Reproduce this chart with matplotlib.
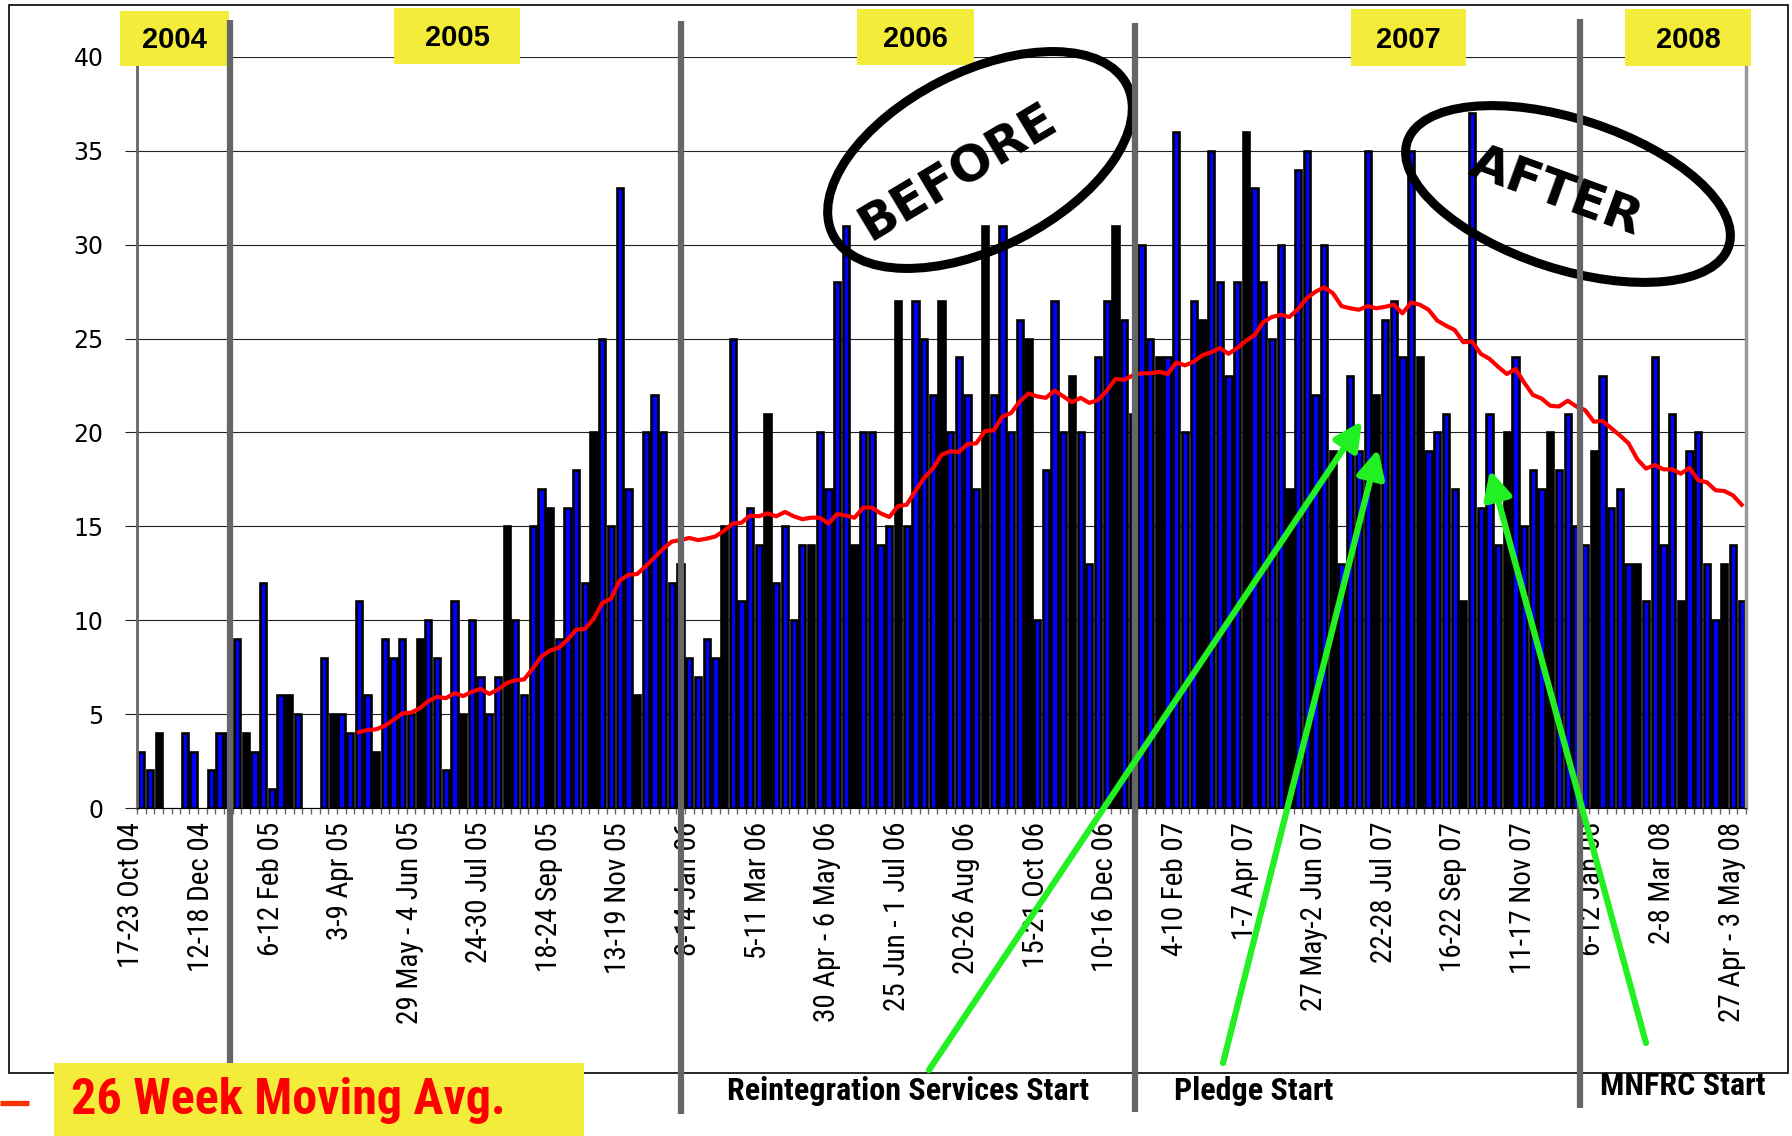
import matplotlib
matplotlib.use('Agg')
import matplotlib.pyplot as plt
from matplotlib.patches import Ellipse, Rectangle
from matplotlib.transforms import ScaledTranslation
import numpy as np
import pandas as pd

# weekly counts, 17-23 Oct 04 .. 27 Apr-3 May 08 (split roughly by year separators)
counts_2004 = [3, 2, 4, 0, 0, 4, 3, 0, 2, 4, 4]
counts_2005 = [9, 4, 3, 12, 1, 6, 6, 5, 0, 0, 8, 5, 5, 4, 11, 6, 3, 9, 8, 9,
               5, 9, 10, 8, 2, 11, 5, 10, 7, 5, 7, 15, 10, 6, 15, 17, 16, 9, 16, 18,
               12, 20, 25, 15, 33, 17, 6, 20, 22, 20, 12, 13]
counts_2006 = [8, 7, 9, 8, 15, 25, 11, 16, 14, 21, 12, 15, 10, 14, 14, 20, 17, 28, 31, 14,
               20, 20, 14, 15, 27, 15, 27, 25, 22, 27, 20, 24, 22, 17, 31, 22, 31, 20, 26, 25,
               10, 18, 27, 20, 23, 20, 13, 24, 27, 31, 26, 21]
counts_2007 = [30, 25, 24, 24, 36, 20, 27, 26, 35, 28, 23, 28, 36, 33, 28, 25, 30, 17, 34, 35,
               22, 30, 19, 13, 23, 19, 35, 22, 26, 27, 24, 35, 24, 19, 20, 21, 17, 11, 37, 16,
               21, 14, 20, 24, 15, 18, 17, 20, 18, 21, 15, 14]
counts_2008 = [19, 23, 16, 17, 13, 13, 11, 24, 14, 21, 11, 19, 20, 13, 10, 13, 14, 11]

tick_labels = ['17-23 Oct 04', '12-18 Dec 04', '6-12 Feb 05', '3-9 Apr 05',
               '29 May - 4 Jun 05', '24-30 Jul 05', '18-24 Sep 05', '13-19 Nov 05',
               '8-14 Jan 06', '5-11 Mar 06', '30 Apr - 6 May 06', '25 Jun - 1 Jul 06',
               '20-26 Aug 06', '15-21 Oct 06', '10-16 Dec 06', '4-10 Feb 07',
               '1-7 Apr 07', '27 May-2 Jun 07', '22-28 Jul 07', '16-22 Sep 07',
               '11-17 Nov 07', '6-12 Jan 08', '2-8 Mar 08', '27 Apr - 3 May 08']
label_every = 8
years = ['2004', '2005', '2006', '2007', '2008']
year_breaks = [10.2, 62.1, 114.3, 165.4]
milestones = ['Reintegration Services Start', 'Pledge Start', 'MNFRC Start']
ma_window = 26
legend_text = '26 Week Moving Avg.'

counts = counts_2004 + counts_2005 + counts_2006 + counts_2007 + counts_2008
n = len(counts)
x = np.arange(n)
moving_avg = pd.Series(counts).rolling(ma_window).mean()

W, H = 1792, 1136
fig = plt.figure(figsize=(W / 100, H / 100), dpi=100)
ax = fig.add_axes([137 / W, 1 - 808 / H, (1746 - 137) / W, (808 - 57) / H])

narrow = ['Liberation Sans Narrow', 'Roboto Condensed', 'Roboto', 'DejaVu Sans']
yellow = '#f4ec3b'
green = '#22f022'
grey = '#666666'

# bars (every 5th one looks solid black in the original because of the thick borders)
faces = ['black' if i % 5 == 2 else '#0000ff' for i in range(n)]
edges = [1.9 if c > 0 else 0 for c in counts]
ax.bar(x, counts, width=0.72, color=faces, edgecolor='black', linewidth=edges, zorder=2)
ax.plot(x, moving_avg, color='red', lw=3.0, zorder=3)

ax.set_xlim(-0.5, n - 0.5)
ax.set_ylim(0, 40)
ax.set_yticks(range(0, 41, 5))
ax.yaxis.grid(True, color='#222222', lw=0.8, zorder=0)
ax.set_axisbelow(True)
ax.tick_params(axis='y', direction='out', length=9, width=0.8, color='#222222',
               labelsize=17, pad=15)
for t in ax.get_yticklabels():
    t.set_fontfamily('DejaVu Sans')

ax.set_xticks(x[::label_every])
ax.set_xticklabels(tick_labels, rotation=90, family=narrow, fontsize=21)
ax.set_xticks(np.arange(-0.5, n, 1), minor=True)
ax.tick_params(axis='x', which='major', length=0, pad=10)
ax.tick_params(axis='x', which='minor', length=4, color=grey, width=1)
off = ScaledTranslation(-10 / 100, 0, fig.dpi_scale_trans)
for t in ax.get_xticklabels():
    t.set_transform(t.get_transform() + off)

ax.spines['top'].set_visible(False)
ax.spines['left'].set_color(grey)
ax.spines['left'].set_linewidth(2)
ax.spines['right'].set_color('#999999')
ax.spines['right'].set_linewidth(2.5)
ax.spines['bottom'].set_color('black')

# overlay in pixel coordinates for annotations
fig.canvas.draw()
ov = fig.add_axes([0, 0, 1, 1], zorder=5)
ov.set_xlim(0, W)
ov.set_ylim(H, 0)
ov.axis('off')
ov.patch.set_visible(False)

ov.add_patch(Rectangle((9, 5), 1779, 1068, fill=False, ec='black', lw=1.2))

sep_px = [ax.transData.transform((b, 0))[0] for b in year_breaks]
sep_ends = [(20, 1063), (21, 1114), (23, 1112), (19, 1108)]
for sx, (y0, y1) in zip(sep_px, sep_ends):
    ov.plot([sx, sx], [y0, y1], color=grey, lw=4.5, solid_capstyle='butt')

year_boxes = [(120, 11, 109, 55), (394, 8, 126, 56), (857, 9, 117, 56),
              (1351, 9, 115, 57), (1625, 9, 126, 57)]
for yr, (bx, by, bw, bh) in zip(years, year_boxes):
    ov.add_patch(Rectangle((bx, by), bw, bh, color=yellow, lw=0))
    ov.text(bx + bw / 2, by + bh / 2 + 2, yr, ha='center', va='center',
            fontsize=21, fontweight='bold', family='Liberation Sans')

# before / after ellipses
ov.add_patch(Ellipse((980, 160), 330, 176, angle=-27, fill=False, ec='black', lw=6.5))
ov.text(958, 172, 'BEFORE', rotation=31, ha='center', va='center',
        fontsize=36, fontweight='bold', family='DejaVu Sans')
ov.add_patch(Ellipse((1568, 194), 338, 150, angle=18, fill=False, ec='black', lw=6.5))
ov.text(1556, 192, 'AFTER', rotation=-20, ha='center', va='center',
        fontsize=36, fontweight='bold', family='DejaVu Sans')

# green arrows to milestones
arrows = [((929, 1070), (1362, 421)), ((1223, 1063), (1378, 449)), ((1646, 1043), (1490, 470))]
for tail, tip in arrows:
    ov.annotate('', xy=tip, xytext=tail,
                arrowprops=dict(arrowstyle='-|>', color=green, lw=4.5,
                                mutation_scale=42, shrinkA=0, shrinkB=0))

ms_pos = [(908, 1091), (1254, 1091), (1683, 1086)]
for txt, (tx, ty) in zip(milestones, ms_pos):
    ov.text(tx, ty, txt, ha='center', va='center', fontsize=23,
            fontweight='bold', family=narrow)

# legend
ov.add_patch(Rectangle((54, 1063), 530, 73, color=yellow, lw=0))
ov.plot([0, 29], [1103, 1103], color='#ff3000', lw=3.8, solid_capstyle='butt')
ov.text(71, 1100, legend_text, ha='left', va='center', color='red',
        fontsize=36, fontweight='bold', family=narrow)

fig.savefig('out.png', dpi=100)
